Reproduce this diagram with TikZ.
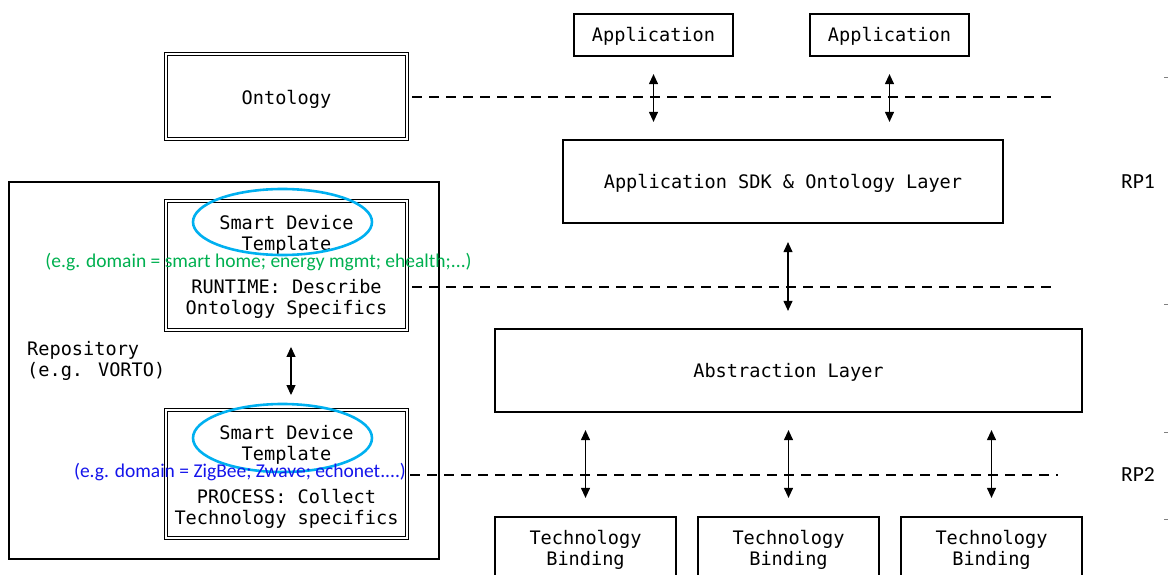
\documentclass[tikz,border=0pt]{standalone}
\usepackage{fontspec}
\setmainfont{DejaVu Sans Mono}
\newfontfamily\notefont{Carlito}
\usetikzlibrary{arrows.meta,shapes.geometric}
\definecolor{ellblue}{RGB}{0,176,240}
\definecolor{notegreen}{RGB}{0,176,80}
\definecolor{noteblue}{RGB}{20,20,235}
\begin{document}
\begin{tikzpicture}[x=1pt,y=-1pt,
  mono/.style={font=\fontsize{18.6}{21}\selectfont, align=center, inner sep=0pt},
  box/.style={draw, line width=1.2pt, inner sep=0pt},
  dbox/.style={draw, double, double distance=2.2pt, line width=0.9pt, inner sep=0pt},
  ell/.style={draw=ellblue, line width=2.6pt, ellipse, inner sep=0pt},
  dline/.style={line width=1.3pt, dash pattern=on 10pt off 7pt},
  tipf/.style={},
  biarrow/.style={line width=1.1pt, {Triangle[width=9pt,length=10pt,sep=2.5pt]}-{Triangle[width=9pt,length=10pt,sep=2.5pt]}},
  note/.style={font=\notefont\fontsize{19.5}{21}\selectfont, inner sep=0pt},
  rplabel/.style={font=\notefont\fontsize{21.5}{23}\selectfont, inner sep=0pt},
  tick/.style={line width=0.8pt, gray}]
\useasboundingbox (0,0) rectangle (1168,575);
% top applications
\node[box, minimum width=159pt, minimum height=42pt] (app1) at (653.5,35) {};
\node[mono, yshift=-1pt] (app1t) at (app1) {Application};
\node[box, minimum width=159pt, minimum height=42pt] (app2) at (889.5,35) {};
\node[mono, yshift=-1pt] (app2t) at (app2) {Application};
% ontology
\node[dbox, minimum width=241pt, minimum height=85pt] (onto) at (286.5,96.5) {};
\node[mono, yshift=-3pt] (ontot) at (onto) {Ontology};
% SDK layer
\node[box, minimum width=440pt, minimum height=83pt] (sdk) at (783,181.5) {};
\node[mono, yshift=-1.5pt] (sdkt) at (sdk) {Application SDK \& Ontology Layer};
% abstraction layer
\node[box, minimum width=587pt, minimum height=83pt] (abs) at (788.5,370.5) {};
\node[mono, yshift=-2pt] (abst) at (abs) {Abstraction Layer};
% technology bindings
\node[box, minimum width=181pt, minimum height=62pt] (tb1) at (585.5,548) {};
\node[mono] (tb1t) at (585.5,549.5) {Technology\\Binding};
\node[box, minimum width=181pt, minimum height=62pt] (tb2) at (788.5,548) {};
\node[mono] (tb2t) at (788.5,549.5) {Technology\\Binding};
\node[box, minimum width=181pt, minimum height=62pt] (tb3) at (991.5,548) {};
\node[mono] (tb3t) at (991.5,549.5) {Technology\\Binding};
% repository
\node[box, minimum width=430pt, minimum height=377pt] (repo) at (224,370.5) {};
\node[mono, align=left, anchor=west] (repotext) at (27,360.5) {Repository\\(e.g. VORTO)};
% smart device templates
\node[dbox, minimum width=241pt, minimum height=129pt] (sdt1) at (286.5,265.5) {};
\node[mono] (sdt1title) at (286.5,234.5) {Smart Device\\Template};
\node[mono] (sdt1desc) at (286.5,298.5) {RUNTIME: Describe\\Ontology Specifics};
\node[ell, minimum width=179pt, minimum height=66pt] (ell1) at (282.5,222) {};
\node[note, text=notegreen] (note1) at (258.5,262.5) {(e.g. domain = smart home; energy mgmt; ehealth;...)};

\node[dbox, minimum width=241pt, minimum height=128pt] (sdt2) at (286.5,474) {};
\node[mono] (sdt2title) at (286.5,444.5) {Smart Device\\Template};
\node[mono] (sdt2desc) at (286.5,508.5) {PROCESS: Collect\\Technology specifics};
\node[ell, minimum width=179pt, minimum height=68pt] (ell2) at (282.5,438) {};
\node[note, text=noteblue] (note2) at (240,472) {(e.g. domain = ZigBee; Zwave; echonet....)};
% RP labels
\node[rplabel] (rp1) at (1138,182) {RP1};
\node[rplabel] (rp2) at (1138,475) {RP2};
% dashed reference lines
\coordinate (d1s) at (412,97);  \coordinate (d1e) at (1058,97);
\coordinate (d2s) at (412,287); \coordinate (d2e) at (1058,287);
\coordinate (d3s) at (410,475); \coordinate (d3e) at (1058,475);
\draw[dline] (d1s) -- (d1e);
\draw[dline] (d2s) -- (d2e);
\draw[dline] (d3s) -- (d3e);
% arrows
\draw[biarrow] ([yshift=-15pt]app1.south) -- ([yshift=15pt]app1.south |- sdk.north);
\draw[biarrow] ([yshift=-15pt]app2.south) -- ([yshift=15pt]app2.south |- sdk.north);
\draw[biarrow] ([xshift=5pt,yshift=-16pt]sdk.south) -- ([xshift=5pt,yshift=15pt]sdk.south |- abs.north);
\draw[biarrow] ([yshift=-15pt]abs.south -| tb1.north) -- ([yshift=16pt]tb1.north);
\draw[biarrow] ([yshift=-15pt]abs.south -| tb2.north) -- ([yshift=16pt]tb2.north);
\draw[biarrow] ([yshift=-15pt]abs.south -| tb3.north) -- ([yshift=16pt]tb3.north);
\draw[biarrow] ([xshift=4.5pt,yshift=-14pt]sdt1.south) -- ([xshift=4.5pt,yshift=12pt]sdt2.north);
% edge ticks
\coordinate (t1a) at (1164,77);  \coordinate (t1b) at (1168,77);
\coordinate (t2a) at (1164,304); \coordinate (t2b) at (1168,304);
\coordinate (t3a) at (1164,432); \coordinate (t3b) at (1168,432);
\coordinate (t4a) at (1164,519); \coordinate (t4b) at (1168,519);
\draw[tick] (t1a) -- (t1b);
\draw[tick] (t2a) -- (t2b);
\draw[tick] (t3a) -- (t3b);
\draw[tick] (t4a) -- (t4b);
\end{tikzpicture}
\end{document}
